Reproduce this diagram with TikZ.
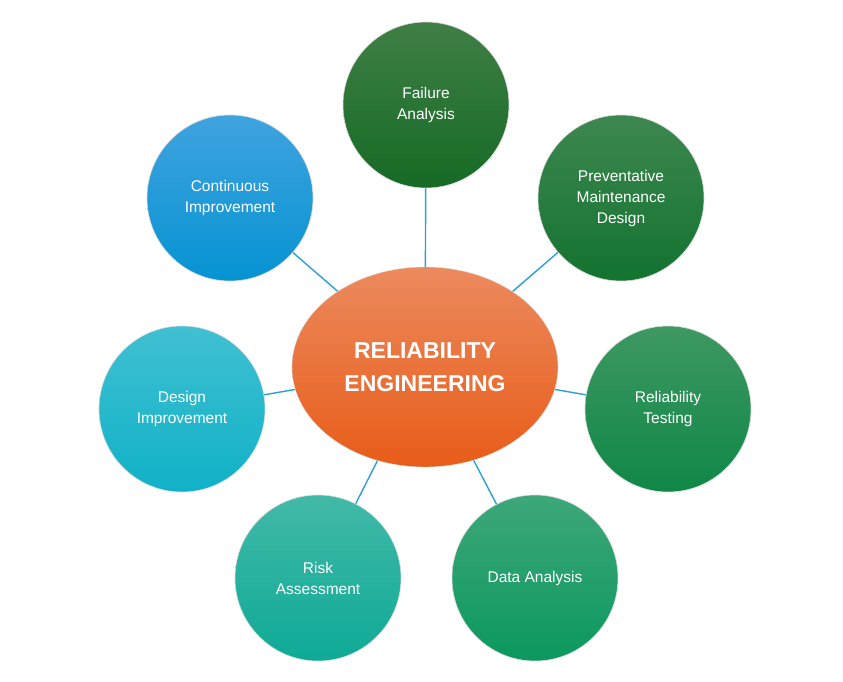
\documentclass[tikz,border=0pt]{standalone}
\usepackage{fontspec}
\setmainfont{Liberation Sans}
\usetikzlibrary{backgrounds,shapes.geometric}
\definecolor{linkc}{HTML}{2C9FD8}
\tikzset{
  sat/.style={circle, minimum size=166pt, inner sep=0pt, align=center, text=white, font=\fontsize{15.5}{21}\selectfont, draw=white!85!black, line width=0.6pt},
  link/.style={draw=linkc, line width=1.4pt},
}
\definecolor{fgA}{HTML}{3F7F45}\definecolor{fgB}{HTML}{166A26}
\definecolor{pmA}{HTML}{3E8750}\definecolor{pmB}{HTML}{12732F}
\definecolor{rtA}{HTML}{3E9862}\definecolor{rtB}{HTML}{0F8747}
\definecolor{daA}{HTML}{3EA77A}\definecolor{daB}{HTML}{0B985E}
\definecolor{raA}{HTML}{42B9A8}\definecolor{raB}{HTML}{0EAA96}
\definecolor{diA}{HTML}{40C0D2}\definecolor{diB}{HTML}{10B1C7}
\definecolor{ciA}{HTML}{3FA3DF}\definecolor{ciB}{HTML}{0693D2}
\definecolor{ceA}{HTML}{EC8A5E}\definecolor{ceB}{HTML}{E85C18}
\begin{document}
\begin{tikzpicture}[x=1pt,y=-1pt]
\useasboundingbox (0,0) rectangle (843,682);
\node[ellipse, minimum width=266pt, minimum height=200pt, top color=ceA, bottom color=ceB, draw=white!85!black, text=white, align=center, font=\bfseries\fontsize{23}{33}\selectfont] (c) at (425,367) {RELIABILITY\\ENGINEERING};
\node[sat, top color=fgA, bottom color=fgB] (fa) at (426,105) {Failure\\Analysis};
\node[sat, top color=pmA, bottom color=pmB] (pm) at (621,198) {Preventative\\Maintenance\\Design};
\node[sat, top color=rtA, bottom color=rtB] (rt) at (668,409) {Reliability\\Testing};
\node[sat, top color=daA, bottom color=daB] (da) at (535,578) {Data Analysis};
\node[sat, top color=raA, bottom color=raB] (ra) at (318,578) {Risk\\Assessment};
\node[sat, top color=diA, bottom color=diB] (di) at (182,409) {Design\\Improvement};
\node[sat, top color=ciA, bottom color=ciB] (ci) at (230,198) {Continuous\\Improvement};
\begin{scope}[on background layer]
\foreach \n in {fa,pm,rt,da,ra,di,ci} \draw[link] (c.center) -- (\n.center);
\end{scope}
\end{tikzpicture}
\end{document}
